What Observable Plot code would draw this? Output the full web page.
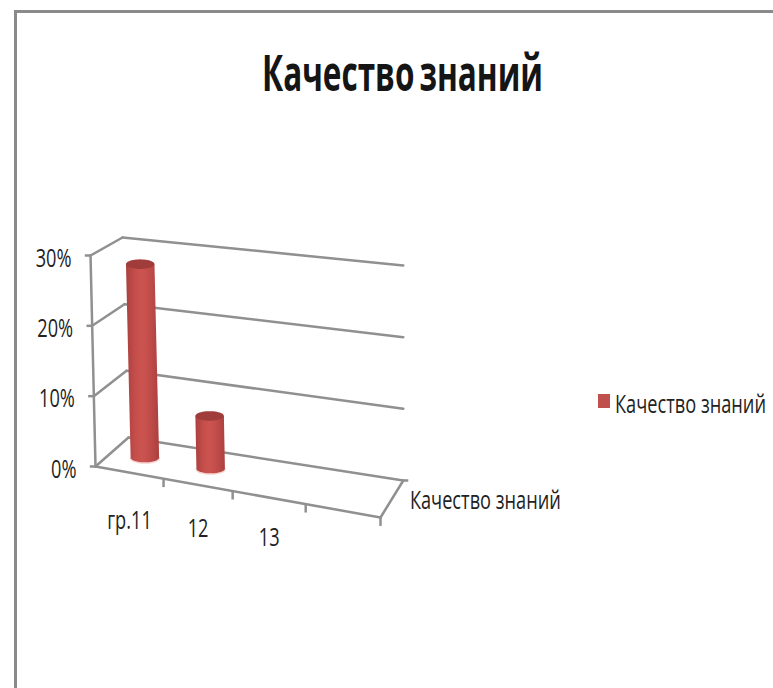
<!DOCTYPE html>
<html lang="ru">
<head>
<meta charset="utf-8">
<script src="https://cdn.jsdelivr.net/npm/d3@7"></script>
<script src="https://cdn.jsdelivr.net/npm/@observablehq/plot@0.6"></script>
<style>
  html, body { margin: 0; padding: 0; background: #fff; width: 773px; height: 688px; overflow: hidden; }
  #stage { position: relative; width: 773px; height: 688px; overflow: hidden; font-family: "Open Sans", sans-serif; color: #222; }
  #frame { position: absolute; left: 14px; top: 10px; right: -5px; bottom: -5px; border: 3px solid #8a8a8a; pointer-events: none; }
  #title { position: absolute; left: 262px; top: 37px; font-size: 50px; font-weight: 700; line-height: 70px; word-spacing: -5px; color: #151515; white-space: nowrap; transform-origin: 0 50%; transform: scaleX(0.63); }
  #swatch { position: absolute; left: 598px; top: 394px; width: 12px; height: 14px; background: #c0504d; }
  #legend { position: absolute; left: 615px; top: 387px; font-size: 26px; line-height: 32px; white-space: nowrap; transform-origin: 0 50%; transform: scaleX(0.70); }
  svg { position: absolute; left: 0; top: 0; }
</style>
</head>
<body>
<div id="stage">
  <div id="frame"></div>
  <div id="title">Качество знаний</div>
  <div id="swatch"></div>
  <div id="legend">Качество знаний</div>
</div>
<script>
// ---- data ----
const seriesName = "Качество знаний";
const categories = ["гр.11", "12", "13", ""];
const values = [28, 7.5, null, null];
const yTicks = [0, 10, 20, 30];
// category slot boundaries along the floor (slightly uneven because of the perspective)
const slotEdges = [0, 0.955, 1.925, 2.95, 4];
// where each cylinder stands along the floor
const barSlots = [0.47, 1.41, 2.44, 3.47];

// ---- oblique 3D view: (category, percent, depth) to the chart's own x / y units ----
const corners = {
  "000": [0, 0], "100": [4, -7.25], "010": [-0.07, 30], "110": [3.96, 24.7],
  "001": [0.463, 4.12], "101": [4.32, -1.99], "011": [0.379, 32.56], "111": [4.32, 28.58]
};
function project(c, v, d) {
  const a = c / 4, b = v / 30;
  let X = 0, Y = 0;
  for (const [i, wi] of [[0, 1 - a], [1, a]])
    for (const [j, wj] of [[0, 1 - b], [1, b]])
      for (const [k, wk] of [[0, 1 - d], [1, d]]) {
        const p = corners[`${i}${j}${k}`];
        X += wi * wj * wk * p[0];
        Y += wi * wj * wk * p[1];
      }
  return {X, Y};
}
const seg = (a, b, id) => [{...project(...a), id}, {...project(...b), id}];

// walls and floor
const wallLines = [
  ...yTicks.flatMap(v => [
    ...seg([0, v, 0], [0, v, 1], `side${v}`),
    ...seg([0, v, 1], [4, v, 1], `back${v}`)
  ]),
  ...seg([0, 0, 0], [0, 30, 0], "axis"),
  ...seg([0, 0, 0], [4, 0, 0], "front"),
  ...seg([4, 0, 0], [4, 0, 1], "right")
];

// ticks
const yTickRows = yTicks.map(v => ({...project(0, v, 0), label: `${v}%`}));
const tickLinks = [
  ...yTickRows.map(p => ({x1: p.X, y1: p.Y, x2: p.X - 0.08, y2: p.Y})),
  ...slotEdges.slice(1).map(c => project(c, 0, 0)).map(p => ({x1: p.X, y1: p.Y, x2: p.X, y2: p.Y - 1.2})),
  ...[project(4, 0, 1)].map(p => ({x1: p.X, y1: p.Y, x2: p.X + 0.07, y2: p.Y}))
];
const xLabelRows = categories.map((label, i) => {
  const c = (slotEdges[i] + slotEdges[i + 1]) / 2;
  return {label, X: c, Y: -7.1 - 1.25 * c};
}).filter(d => d.label);

// cylinders
const RX = 0.2, RY = 0.68, BAR_DEPTH = 0.5;
const angles = d3.range(0, 49).map(i => i * Math.PI / 24);
const bars = values.flatMap((v, i) => {
  if (v == null) return [];
  const c = barSlots[i];
  const base = project(c, 0, BAR_DEPTH), top = project(c, v, BAR_DEPTH);
  const lowerArc = angles.filter(t => t <= Math.PI + 1e-9)
    .map(t => ({X: base.X + RX * Math.cos(t), Y: base.Y - RY * Math.sin(t), id: i}));
  const body = [{X: top.X + RX, Y: top.Y, id: i}, ...lowerArc, {X: top.X - RX, Y: top.Y, id: i}];
  const cap = angles.map(t => ({X: top.X + RX * Math.cos(t), Y: top.Y + RY * Math.sin(t), id: i}));
  return [{body, cap, lowerArc}];
});

const gridStroke = "#909090";
const chart = Plot.plot({
  width: 773,
  height: 688,
  margin: 0,
  x: {type: "linear", domain: [0, 4], range: [95, 380], axis: null},
  y: {type: "linear", domain: [0, 30], range: [466, 255], axis: null},
  style: {background: "transparent", fontFamily: '"Open Sans", sans-serif'},
  marks: [
    () => {
      const defs = d3.create("svg:defs");
      const g = defs.append("linearGradient").attr("id", "cyl").attr("x1", 0).attr("x2", 1).attr("y1", 0).attr("y2", 0);
      [[0, "#aa403e"], [0.3, "#c64f4c"], [0.5, "#cc5450"], [0.75, "#bf4b48"], [1, "#aa403e"]]
        .forEach(([o, c]) => g.append("stop").attr("offset", o).attr("stop-color", c));
      return defs.node();
    },
    Plot.line(wallLines, {x: "X", y: "Y", z: "id", stroke: gridStroke, strokeWidth: 2.5}),
    Plot.link(tickLinks, {x1: "x1", y1: "y1", x2: "x2", y2: "y2", stroke: gridStroke, strokeWidth: 2.5}),
    Plot.text(yTickRows, {x: "X", y: "Y", text: "label", dx: -19, dy: 3, textAnchor: "end", fontSize: 26, fill: "#222"}),
    Plot.text(xLabelRows, {x: "X", y: "Y", text: "label", fontSize: 26, fill: "#222"}),
    // depth series label
    Plot.text([project(4, 0, 0.5)], {x: "X", y: "Y", text: () => seriesName, dx: 18, dy: 2, textAnchor: "start", fontSize: 26, fill: "#222"}),
    // cylinders
    ...bars.flatMap(b => [
      Plot.line(b.lowerArc, {x: "X", y: "Y", stroke: "#f6d5d1", strokeWidth: 2, dy: 0.5}),
      Plot.line(b.body, {x: "X", y: "Y", fill: "url(#cyl)", stroke: "none"}),
      Plot.line(b.cap, {x: "X", y: "Y", fill: "#a03c3a", stroke: "none"})
    ])
  ]
});
// the reference's lettering is horizontally condensed
d3.select(chart).selectAll("text").each(function () {
  const t = d3.select(this);
  t.attr("transform", `${t.attr("transform") || ""} scale(0.70,1)`);
});
document.getElementById("stage").appendChild(chart);
</script>
</body>
</html>
